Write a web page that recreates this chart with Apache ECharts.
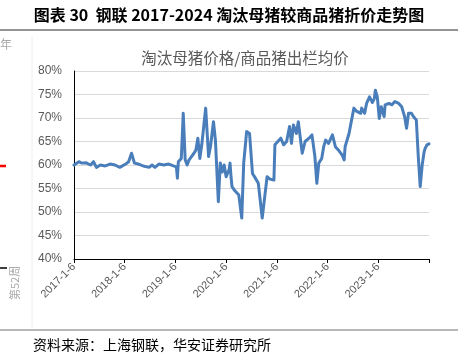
<!DOCTYPE html>
<html>
<head>
<meta charset="utf-8">
<script src="https://cdn.jsdelivr.net/npm/echarts@6/dist/echarts.min.js"></script>
<style>
html,body{margin:0;padding:0;background:#fff;}
#c{width:458px;height:362px;}
</style>
</head>
<body>
<div id="c"></div>
<script>
// Week index since 2017-1-6 (52 weeks per year on the axis)
var weeks = [0,5,8,12,14,17,20,23,27,32,37,42,47,53,56,59,60,62,66,71,77,80,83,87,92,97,102,105,106,107,110,111,112,114,116,118,120,123,125,127,129,131,135,138,140,143,145,148,150,152,154,156,159,160,161,162,165,169,172,174,177,180,183,186,189,193,196,198,201,205,206,212,215,218,221,223,225,228,230,232,234,237,241,244,247,249,251,254,256,258,261,265,268,271,275,277,278,282,284,287,290,294,295,298,300,303,306,308,309,311,313,315,318,319,323,326,329,333,336,339,341,343,346,348,351,353,355,357,359,360,362,364];
// Cull sow price / market hog average price (%)
var ratio = [60.0,60.7,60.4,60.5,60.8,60.0,60.7,59.5,60.0,59.8,60.2,60.0,59.5,60.2,60.7,62.5,62.8,60.4,60.2,59.8,59.5,60.0,59.5,60.2,60.0,60.2,59.8,59.6,57.2,60.7,61.4,66.0,71.0,61.1,60.0,61.1,60.7,62.5,63.2,65.7,61.4,64.3,72.1,61.8,64.0,69.2,65.3,52.2,60.4,58.5,60.0,57.5,59.0,60.4,57.5,55.4,54.5,53.6,48.7,60.4,67.1,66.7,58.2,57.2,56.1,48.7,54.0,57.5,57.0,56.8,64.3,65.7,64.3,65.0,68.2,64.6,68.5,66.7,69.2,69.2,62.5,65.0,65.7,66.4,61.8,56.1,60.4,61.4,63.9,65.3,64.6,66.4,63.9,63.2,62.1,61.1,63.9,66.7,68.9,72.1,71.4,71.0,72.1,71.0,73.1,74.5,73.3,74.2,75.9,74.5,69.9,72.4,70.3,72.8,73.1,72.8,73.5,73.1,72.4,70.3,67.8,71.0,71.0,70.3,69.6,61.8,55.4,60.0,62.8,63.5,64.3,64.5];
var xTickLabels = ['2017-1-6','2018-1-6','2019-1-6','2020-1-6','2021-1-6','2022-1-6','2023-1-6',''];
var yTicks = [40,45,50,55,60,65,70,75,80];

var data = weeks.map(function(w,i){return [w, ratio[i]];});
var chart = echarts.init(document.getElementById('c'), null, {renderer:'canvas'});
var cjk = '"Noto Sans CJK SC", "Noto Sans", sans-serif';
chart.setOption({
  animation:false,
  title:{text:'淘汰母猪价格/商品猪出栏均价', left:240, textAlign:'center', top:45,
    textStyle:{fontFamily:cjk, fontSize:15.5, fontWeight:'normal', color:'#595959'}},
  grid:{left:74, right:29, top:71, bottom:103, containLabel:false},
  xAxis:{type:'value', min:0, max:364, interval:52,
    axisLine:{show:true, lineStyle:{color:'#000', width:1}},
    axisTick:{show:true, length:4, lineStyle:{color:'#000'}},
    splitLine:{show:false},
    axisLabel:{rotate:45, fontSize:11, color:'#595959', fontFamily:'"Liberation Sans", Arial, sans-serif', margin:6,
      formatter:function(v){ var i=Math.round(v/52); return xTickLabels[i]||''; }}
  },
  yAxis:{type:'value', min:yTicks[0], max:yTicks[yTicks.length-1], interval:5,
    axisLine:{show:true, lineStyle:{color:'#000', width:1}},
    axisTick:{show:false},
    splitLine:{show:true, lineStyle:{color:'#d9d9d9', width:1}},
    axisLabel:{fontSize:12, color:'#595959', fontFamily:'"Liberation Sans", Arial, sans-serif', margin:12,
      formatter:'{value}%'}
  },
  series:[{type:'line', data:data, showSymbol:false, smooth:false,
    lineStyle:{color:'#4a7ebb', width:3, join:'round', cap:'round'}}],
  graphic:[
    {type:'text', left:'center', top:7, style:{text:'图表 30  钢联 2017-2024 淘汰母猪较商品猪折价走势图', font:'bold 16px '+cjk, fill:'#000'}},
    {type:'line', shape:{x1:0,y1:30,x2:458,y2:30}, style:{stroke:'#707070', lineWidth:1.5}},
    {type:'line', shape:{x1:0,y1:330,x2:458,y2:330}, style:{stroke:'#707070', lineWidth:1.2}},
    {type:'text', left:33, top:338, style:{text:'资料来源：上海钢联，华安证券研究所', font:'14px '+cjk, fill:'#000'}},
    {type:'line', shape:{x1:32,y1:36,x2:32,y2:328}, style:{stroke:'#eeeeee', lineWidth:1}},
    {type:'text', left:0, top:38, style:{text:'年', font:'12px '+cjk, fill:'#aaaaaa'}},
    {type:'line', shape:{x1:0,y1:166,x2:6,y2:166}, style:{stroke:'#ff0000', lineWidth:2.5}},
    {type:'line', shape:{x1:0,y1:268,x2:7,y2:268}, style:{stroke:'#000', lineWidth:1.5}},
    {type:'text', x:9, y:300, rotation:Math.PI/2, style:{text:'第52周', font:'11px '+cjk, fill:'#aaaaaa'}}
  ]
});
</script>
</body>
</html>
